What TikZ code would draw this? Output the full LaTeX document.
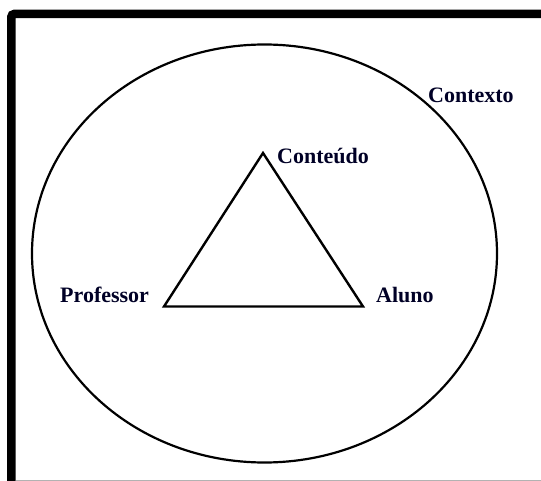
\documentclass[tikz,border=0pt]{standalone}
\usepackage{fontspec}
\setmainfont{Liberation Serif}
\usetikzlibrary{shapes.geometric}
\begin{document}
\begin{tikzpicture}[x=1pt,y=-1pt,
  lbl/.style={font=\fontsize{22}{25}\selectfont\bfseries, text=black!85!blue, inner sep=0pt, anchor=west},
  frame/.style={line width=8.5pt, black},
  shapeline/.style={line width=2.4pt, black}]
\useasboundingbox (0,0) rectangle (541,481);
\fill[white] (0,0) rectangle (541,481);
% frame
\coordinate (fb) at (11.3,481);
\coordinate (fc) at (11.3,14);
\coordinate (fr) at (541,14);
\draw[frame, rounded corners=3pt] (fb) -- (fc) -- (fr);
\coordinate (gl) at (15.5,480);
\coordinate (gr) at (541,480);
\draw[black!30, line width=1pt] (gl) -- (gr);
% context ellipse
\node[ellipse, draw, shapeline, line width=2.2pt, minimum width=465, minimum height=418, inner sep=0pt] (ctx) at (264.5,253.5) {};
% triangle
\coordinate (T) at (263,153);
\coordinate (P) at (164,306.5);
\coordinate (A) at (363,306.5);
\draw[shapeline, line join=miter] (P) -- (T) -- (A) -- cycle;
% labels
\node[lbl] (contexto) at (428,95) {Contexto};
\node[lbl] (conteudo) at (277,156) {Conteúdo};
\node[lbl] (professor) at (60,295) {Professor};
\node[lbl] (aluno) at (376,295) {Aluno};
\end{tikzpicture}
\end{document}
